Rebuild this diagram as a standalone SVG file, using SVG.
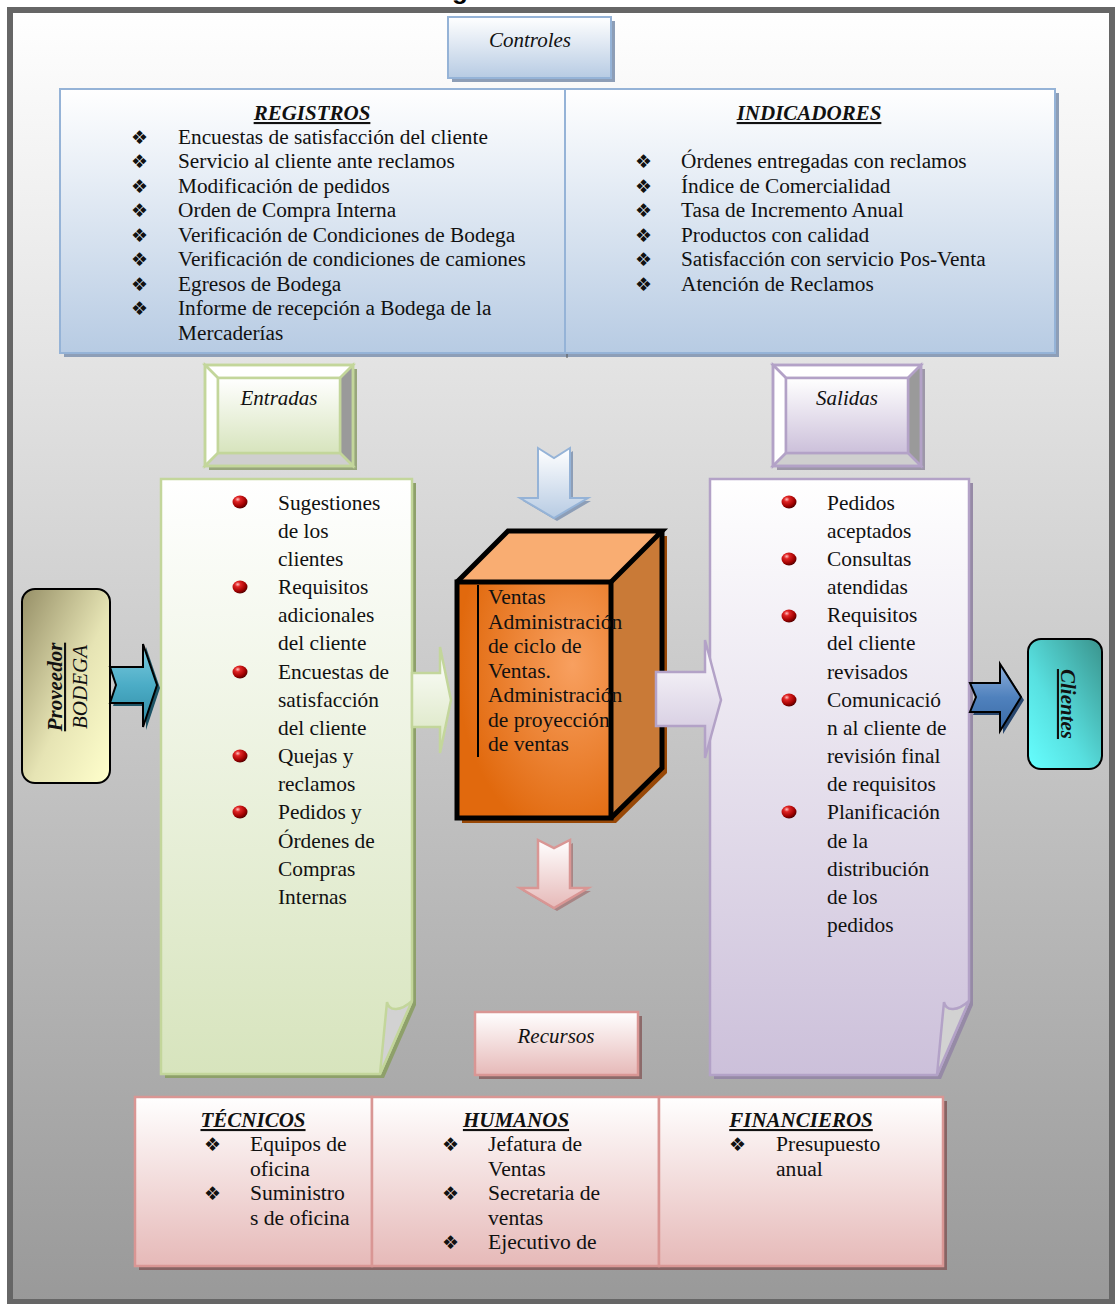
<svg xmlns="http://www.w3.org/2000/svg" width="1115" height="1304" viewBox="0 0 1115 1304">
<defs>
  <linearGradient id="bg" x1="0" y1="0" x2="0" y2="1"><stop offset="0" stop-color="#ffffff"/><stop offset="1" stop-color="#999999"/></linearGradient>
  <linearGradient id="gBlue" x1="0" y1="0" x2="0" y2="1"><stop offset="0" stop-color="#ffffff"/><stop offset="1" stop-color="#b7cbe3"/></linearGradient>
  <linearGradient id="gGreen" x1="0" y1="0" x2="0" y2="1"><stop offset="0" stop-color="#ffffff"/><stop offset="1" stop-color="#d7e4bd"/></linearGradient>
  <linearGradient id="gPurple" x1="0" y1="0" x2="0" y2="1"><stop offset="0" stop-color="#ffffff"/><stop offset="1" stop-color="#ccc0da"/></linearGradient>
  <linearGradient id="gPink" x1="0" y1="0" x2="0" y2="1"><stop offset="0" stop-color="#ffffff"/><stop offset="1" stop-color="#e6b9b8"/></linearGradient>
  <linearGradient id="gProv" x1="0" y1="0" x2="1" y2="1"><stop offset="0" stop-color="#968f67"/><stop offset="0.55" stop-color="#e6e4b4"/><stop offset="1" stop-color="#ffffcc"/></linearGradient>
  <linearGradient id="gCli" x1="1" y1="0" x2="0" y2="1"><stop offset="0" stop-color="#3a938c"/><stop offset="0.6" stop-color="#58e0e0"/><stop offset="1" stop-color="#66ffff"/></linearGradient>
  <linearGradient id="gTeal" x1="0" y1="0" x2="0" y2="1"><stop offset="0" stop-color="#7fcde0"/><stop offset="0.5" stop-color="#4bacc6"/><stop offset="1" stop-color="#2f8aa3"/></linearGradient>
  <linearGradient id="gSteel" x1="0" y1="0" x2="0" y2="1"><stop offset="0" stop-color="#8fb0db"/><stop offset="0.5" stop-color="#4f81bd"/><stop offset="1" stop-color="#3a6aa5"/></linearGradient>
  <radialGradient id="gFront" cx="0.75" cy="0.35" r="0.75"><stop offset="0" stop-color="#f8a060"/><stop offset="1" stop-color="#e1690d"/></radialGradient>
  <radialGradient id="ball" cx="0.35" cy="0.3" r="0.75"><stop offset="0" stop-color="#ffc0c0"/><stop offset="0.25" stop-color="#e02424"/><stop offset="0.7" stop-color="#a00000"/><stop offset="1" stop-color="#4a0000"/></radialGradient>
  <ellipse id="dot" cx="0" cy="0" rx="7.5" ry="6.5" fill="url(#ball)"/>
</defs>
<style>
  .t{font-family:"Liberation Serif",serif;font-size:21.3px;fill:#111}
  .t21{font-family:"Liberation Serif",serif;font-size:21.4px;fill:#111}
  .tc{font-family:"Liberation Serif",serif;font-size:21.6px;fill:#111}
  .tb{font-family:"Liberation Serif",serif;font-size:21.6px;fill:#111}
  .lbl{font-family:"Liberation Serif",serif;font-size:21px;font-style:italic;fill:#111}
  .hd{font-family:"Liberation Serif",serif;font-size:21px;font-style:italic;font-weight:bold;text-decoration:underline;fill:#111}
  .bu{font-family:"DejaVu Sans",sans-serif;font-size:19px;fill:#111}
  .blueS{stroke:#95b3d7;stroke-width:2}
  .greenS{stroke:#c3d69b;stroke-width:2.5}
  .purpS{stroke:#b3a2c7;stroke-width:2.5}
  .pinkS{stroke:#d99694;stroke-width:2.5}
</style>

<!-- page frame with grey fade -->
<rect x="10" y="10" width="1102" height="1292" fill="url(#bg)" stroke="#666666" stroke-width="6"/>
<text x="452" y="-1" font-family="Liberation Sans, sans-serif" font-weight="bold" font-size="26" fill="#000">g</text>

<!-- Controles label -->
<g id="controles">
  <rect x="452" y="21" width="163" height="61" fill="#8d9eb7"/>
  <rect x="448" y="17" width="163" height="61" fill="url(#gBlue)" class="blueS"/>
  <text x="530" y="47" text-anchor="middle" class="lbl">Controles</text>
</g>

<!-- Registros / Indicadores table -->
<g id="tabla-controles">
  <rect x="64" y="93" width="995" height="264" fill="#8d9eb7"/>
  <line x1="567" y1="353" x2="567" y2="358" stroke="#555" stroke-width="1"/>
  <rect x="60" y="89" width="505" height="264" fill="url(#gBlue)" class="blueS"/>
  <rect x="565" y="89" width="490" height="264" fill="url(#gBlue)" class="blueS"/>
  <text x="312" y="120" text-anchor="middle" class="hd">REGISTROS</text>
  <g class="bu">
    <text x="131" y="144">❖</text><text x="131" y="168">❖</text><text x="131" y="193">❖</text>
    <text x="131" y="217">❖</text><text x="131" y="242">❖</text><text x="131" y="266">❖</text>
    <text x="131" y="291">❖</text><text x="131" y="315">❖</text>
  </g>
  <g class="t">
    <text x="178" y="144">Encuestas de satisfacción del cliente</text>
    <text x="178" y="168">Servicio al cliente ante reclamos</text>
    <text x="178" y="193">Modificación de pedidos</text>
    <text x="178" y="217">Orden de Compra Interna</text>
    <text x="178" y="242">Verificación de Condiciones de Bodega</text>
    <text x="178" y="266">Verificación de condiciones de camiones</text>
    <text x="178" y="291">Egresos de Bodega</text>
    <text x="178" y="315">Informe de recepción a Bodega de la</text>
    <text x="178" y="340">Mercaderías</text>
  </g>
  <text x="809" y="120" text-anchor="middle" class="hd">INDICADORES</text>
  <g class="bu">
    <text x="635" y="168">❖</text><text x="635" y="193">❖</text><text x="635" y="217">❖</text>
    <text x="635" y="242">❖</text><text x="635" y="266">❖</text><text x="635" y="291">❖</text>
  </g>
  <g class="t">
    <text x="681" y="168">Órdenes entregadas con reclamos</text>
    <text x="681" y="193">Índice de Comercialidad</text>
    <text x="681" y="217">Tasa de Incremento Anual</text>
    <text x="681" y="242">Productos con calidad</text>
    <text x="681" y="266">Satisfacción con servicio Pos-Venta</text>
    <text x="681" y="291">Atención de Reclamos</text>
  </g>
</g>

<!-- Entradas bevel label -->
<g id="entradas">
  <rect x="209" y="369" width="148" height="101" fill="#98a67c"/>
  <rect x="205" y="365" width="148" height="101" fill="url(#gGreen)"/>
  <polygon points="205,365 353,365 340,378 218,378" fill="#ffffff" class="greenS"/>
  <polygon points="205,365 218,378 218,453 205,466" fill="#ffffff" class="greenS"/>
  <polygon points="353,365 353,466 340,453 340,378" fill="#9a9a9a" class="greenS"/>
  <polygon points="205,466 218,453 340,453 353,466" fill="#cfcfcf" class="greenS"/>
  <rect x="218" y="378" width="122" height="75" fill="url(#gGreen)" class="greenS"/>
  <rect x="205" y="365" width="148" height="101" fill="none" class="greenS"/>
  <text x="279" y="405" text-anchor="middle" class="lbl">Entradas</text>
</g>

<!-- Salidas bevel label -->
<g id="salidas">
  <rect x="777" y="369" width="148" height="101" fill="#9d97a8"/>
  <rect x="773" y="365" width="148" height="101" fill="url(#gPurple)"/>
  <polygon points="773,365 921,365 908,378 786,378" fill="#ffffff" class="purpS"/>
  <polygon points="773,365 786,378 786,453 773,466" fill="#ffffff" class="purpS"/>
  <polygon points="921,365 921,466 908,453 908,378" fill="#9a9a9a" class="purpS"/>
  <polygon points="773,466 786,453 908,453 921,466" fill="#cfcfcf" class="purpS"/>
  <rect x="786" y="378" width="122" height="75" fill="url(#gPurple)" class="purpS"/>
  <rect x="773" y="365" width="148" height="101" fill="none" class="purpS"/>
  <text x="847" y="405" text-anchor="middle" class="lbl">Salidas</text>
</g>

<!-- Entradas list (curled page) -->
<g id="lista-entradas">
  <path d="M165 483 H416 V1005 L384 1078 H165 Z" fill="#8ea06a"/>
  <path d="M161 479 H412 V1001 L380 1074 H161 Z" fill="url(#gGreen)" class="greenS"/>
  <path d="M387 1002 C389 1012 401 1011 412 1001 L380 1074 Z" fill="#d2d2d2" class="greenS"/>
  <use href="#dot" x="240" y="502"/><use href="#dot" x="240" y="587"/><use href="#dot" x="240" y="672"/>
  <use href="#dot" x="240" y="756"/><use href="#dot" x="240" y="812"/>
  <g class="t21">
    <text x="278" y="510">Sugestiones</text>
    <text x="278" y="538">de los</text>
    <text x="278" y="566">clientes</text>
    <text x="278" y="594">Requisitos</text>
    <text x="278" y="622">adicionales</text>
    <text x="278" y="650">del cliente</text>
    <text x="278" y="679">Encuestas de</text>
    <text x="278" y="707">satisfacción</text>
    <text x="278" y="735">del cliente</text>
    <text x="278" y="763">Quejas y</text>
    <text x="278" y="791">reclamos</text>
    <text x="278" y="819">Pedidos y</text>
    <text x="278" y="848">Órdenes de</text>
    <text x="278" y="876">Compras</text>
    <text x="278" y="904">Internas</text>
  </g>
</g>

<!-- Salidas list (curled page) -->
<g id="lista-salidas">
  <path d="M714 483 H973 V1005 L941 1079 H714 Z" fill="#968aa6"/>
  <path d="M710 479 H969 V1001 L937 1075 H710 Z" fill="url(#gPurple)" class="purpS"/>
  <path d="M944 1002 C946 1012 958 1011 969 1001 L937 1075 Z" fill="#d2d2d2" class="purpS"/>
  <use href="#dot" x="789" y="502"/><use href="#dot" x="789" y="559"/><use href="#dot" x="789" y="616"/>
  <use href="#dot" x="789" y="700"/><use href="#dot" x="789" y="812"/>
  <g class="t21">
    <text x="827" y="510">Pedidos</text>
    <text x="827" y="538">aceptados</text>
    <text x="827" y="566">Consultas</text>
    <text x="827" y="594">atendidas</text>
    <text x="827" y="622">Requisitos</text>
    <text x="827" y="650">del cliente</text>
    <text x="827" y="679">revisados</text>
    <text x="827" y="707">Comunicació</text>
    <text x="827" y="735">n al cliente de</text>
    <text x="827" y="763">revisión final</text>
    <text x="827" y="791">de requisitos</text>
    <text x="827" y="819">Planificación</text>
    <text x="827" y="848">de la</text>
    <text x="827" y="876">distribución</text>
    <text x="827" y="904">de los</text>
    <text x="827" y="932">pedidos</text>
  </g>
</g>

<!-- Proveedor / Bodega -->
<g id="proveedor">
  <rect x="22" y="589" width="88" height="194" rx="13" fill="url(#gProv)" stroke="#000" stroke-width="2"/>
  <text transform="translate(62,687) rotate(-90)" text-anchor="middle" class="hd">Proveedor</text>
  <text transform="translate(87,687) rotate(-90)" text-anchor="middle" class="lbl">BODEGA</text>
</g>

<!-- Clientes -->
<g id="clientes">
  <rect x="1028" y="639" width="74" height="130" rx="13" fill="url(#gCli)" stroke="#000" stroke-width="2"/>
  <text transform="translate(1061,704) rotate(90)" text-anchor="middle" class="hd">Clientes</text>
</g>

<!-- Process block -->
<g id="proceso">
  <polygon points="462,587 513,536 667,536 667,773 616,823 462,823" fill="#984807"/>
  <rect x="457" y="582" width="154" height="236" fill="url(#gFront)"/>
  <polygon points="457,582 508,531 662,531 611,582" fill="#f9ad72"/>
  <polygon points="611,582 662,531 662,768 611,818" fill="#c97a37"/>
  <g fill="none" stroke="#000" stroke-width="5" stroke-linejoin="miter">
    <rect x="457" y="582" width="154" height="236"/>
    <polyline points="457,582 508,531 662,531 611,582"/>
    <polyline points="662,531 662,768 611,818"/>
  </g>
  <line x1="478" y1="585" x2="478" y2="757" stroke="#000" stroke-width="2"/>
  <g class="tc">
    <text x="488" y="604">Ventas</text>
    <text x="488" y="629">Administración</text>
    <text x="488" y="653">de ciclo de</text>
    <text x="488" y="678">Ventas.</text>
    <text x="488" y="702">Administración</text>
    <text x="488" y="727">de proyección</text>
    <text x="488" y="751">de ventas</text>
  </g>
</g>

<!-- Recursos label -->
<g id="recursos">
  <rect x="479" y="1016" width="163" height="63" fill="#8c6a6a"/>
  <rect x="475" y="1012" width="163" height="63" fill="url(#gPink)" class="pinkS"/>
  <text x="556" y="1043" text-anchor="middle" class="lbl">Recursos</text>
</g>

<!-- Recursos table -->
<g id="tabla-recursos">
  <rect x="139" y="1101" width="808" height="169" fill="#876464"/>
  <rect x="135" y="1097" width="237" height="169" fill="url(#gPink)" class="pinkS"/>
  <rect x="372" y="1097" width="287" height="169" fill="url(#gPink)" class="pinkS"/>
  <rect x="659" y="1097" width="284" height="169" fill="url(#gPink)" class="pinkS"/>
  <text x="253" y="1127" text-anchor="middle" class="hd">TÉCNICOS</text>
  <text x="516" y="1127" text-anchor="middle" class="hd">HUMANOS</text>
  <text x="801" y="1127" text-anchor="middle" class="hd">FINANCIEROS</text>
  <g class="bu">
    <text x="204" y="1151">❖</text><text x="204" y="1200">❖</text>
    <text x="442" y="1151">❖</text><text x="442" y="1200">❖</text><text x="442" y="1249">❖</text>
    <text x="729" y="1151">❖</text>
  </g>
  <g class="tb">
    <text x="250" y="1151">Equipos de</text>
    <text x="250" y="1176">oficina</text>
    <text x="250" y="1200">Suministro</text>
    <text x="250" y="1225">s de oficina</text>
    <text x="488" y="1151">Jefatura de</text>
    <text x="488" y="1176">Ventas</text>
    <text x="488" y="1200">Secretaria de</text>
    <text x="488" y="1225">ventas</text>
    <text x="488" y="1249">Ejecutivo de</text>
    <text x="776" y="1151">Presupuesto</text>
    <text x="776" y="1176">anual</text>
  </g>
</g>

<!-- Flow arrows -->
<g id="conectores">
  <path d="M113 670 H146 V647 L160 688 L146 730 V706 H113 L119 688 Z" fill="#1d5466"/>
  <path d="M110 667 H143 V644 L157 685 L143 727 V703 H110 L116 685 Z" fill="url(#gTeal)" stroke="#000" stroke-width="2"/>

  <path d="M412 673 H440 V647 L451 700 L440 753 V727 H412 Z" fill="url(#gGreen)" class="greenS"/>

  <rect x="656" y="672" width="12" height="54" fill="#b3a2c7"/>
  <path d="M656 672 H705 V640 L721 700 L705 758 V726 H656 Z" fill="url(#gPurple)" class="purpS"/>

  <path d="M973 686 H1003 V667 L1024 700 L1003 734 V715 H973 L979 700 Z" fill="#27466e"/>
  <path d="M970 683 H1000 V664 L1021 697 L1000 731 V712 H970 L976 697 Z" fill="url(#gSteel)" stroke="#000" stroke-width="2"/>

  <path d="M541 451 L557 461 L573 451 V501 H591 L557 521 L523 501 H541 Z" fill="#8d9eb7"/>
  <path d="M538 448 L554 458 L570 448 V498 H588 L554 518 L520 498 H538 Z" fill="url(#gBlue)" class="blueS"/>

  <path d="M541 843 L557 851 L573 843 V891 H591 L557 911 L523 891 H541 Z" fill="#a88585"/>
  <path d="M538 840 L554 848 L570 840 V888 H588 L554 908 L520 888 H538 Z" fill="url(#gPink)" class="pinkS"/>
</g>
</svg>
